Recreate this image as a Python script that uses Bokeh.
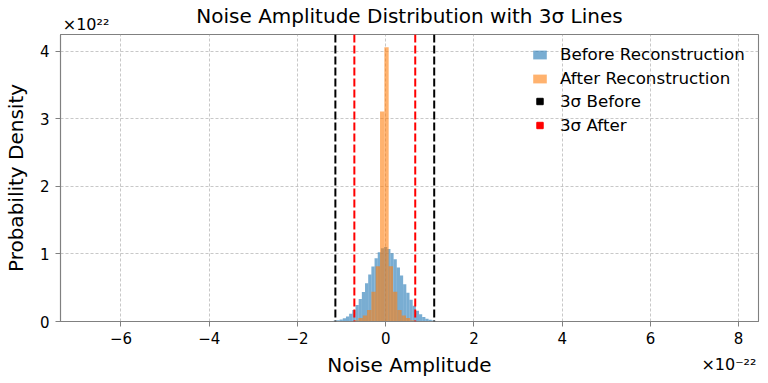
import numpy as np
from bokeh.plotting import figure
from bokeh.models import (Range1d, FixedTicker, Span, Legend, LegendItem, LinearAxis,
                          ColumnDataSource)
from bokeh.embed import file_html
from bokeh.resources import INLINE

# ---------------- data (x in units of 1e-22, density in units of 1e22) -------------
before_bin_start = -1.332
before_bin_width = 0.072
before_density = [0.003, 0.006, 0.010, 0.017, 0.029, 0.047, 0.075, 0.114, 0.170,
                  0.245, 0.335, 0.438, 0.565, 0.695, 0.815, 0.935, 1.025, 1.085,
                  1.105,
                  1.075, 1.010, 0.920, 0.800, 0.680, 0.550, 0.425, 0.322, 0.233,
                  0.160, 0.106, 0.068, 0.042, 0.025, 0.014, 0.008, 0.004, 0.002]

after_edges = [-0.716, -0.618, -0.520, -0.422, -0.324, -0.226, -0.128, -0.030,
               0.068, 0.166, 0.264, 0.362, 0.460, 0.558, 0.656]
after_density = [0.02, 0.05, 0.09, 0.17, 0.44, 0.82, 3.11, 4.06,
                 0.82, 0.44, 0.17, 0.09, 0.05, 0.02]

sigma3_before = [-1.14, 1.10]
sigma3_after = [-0.71, 0.67]

x_ticks = [-6, -4, -2, 0, 2, 4, 6, 8]
y_ticks = [0, 1, 2, 3, 4]
y_scale_text = "×10²²"
x_scale_text = "×10⁻²²"
title_text = "Noise Amplitude Distribution with 3σ Lines"

FONT = "DejaVu Sans"
BLUE = "#1f77b4"
ORANGE = "#ff7f0e"
GRAY = "#808080"

X0, X1 = -7.37, 8.45
Y0, Y1 = 0, 4.25

before_left = before_bin_start + before_bin_width * np.arange(len(before_density))
before_src = ColumnDataSource(dict(left=before_left,
                                   right=before_left + before_bin_width,
                                   top=before_density))
after_src = ColumnDataSource(dict(left=after_edges[:-1], right=after_edges[1:],
                                  top=after_density))

p = figure(width=768, height=383, output_backend="svg", toolbar_location=None,
           x_range=Range1d(X0, X1), y_range=Range1d(Y0, Y1),
           title_location=None,
           min_border_left=57, min_border_right=10, min_border_top=33,
           min_border_bottom=62)
p.background_fill_color = "white"
p.border_fill_color = "white"
p.outline_line_color = GRAY
p.outline_line_width = 1.1

r_before = p.quad(left="left", right="right", bottom=0, top="top", source=before_src,
                  fill_color=BLUE, fill_alpha=0.6, line_color=None)
r_after = p.quad(left="left", right="right", bottom=0, top="top", source=after_src,
                 fill_color=ORANGE, fill_alpha=0.6, line_color=None)

for v in sigma3_before:
    p.add_layout(Span(location=v, dimension="height", line_color="black",
                      line_dash="8 3", line_width=2))
for v in sigma3_after:
    p.add_layout(Span(location=v, dimension="height", line_color="red",
                      line_dash="8 3", line_width=2))

r_b_mark = p.scatter(x=[np.nan], y=[np.nan], marker="square", color="black", size=7)
r_a_mark = p.scatter(x=[np.nan], y=[np.nan], marker="square", color="red", size=7)


def style_axis(ax, tick_out=5, line=GRAY, label_size="15px"):
    ax.axis_line_color = line
    ax.axis_line_width = 1.1
    ax.major_tick_line_color = line
    ax.major_tick_out = tick_out
    ax.major_tick_in = 0
    ax.minor_tick_line_color = None
    ax.major_label_text_font = FONT
    ax.major_label_text_font_size = label_size
    ax.major_label_text_color = "black"
    ax.axis_label_text_font = FONT
    ax.axis_label_text_font_size = "20px"
    ax.axis_label_text_font_style = "normal"
    ax.axis_label_text_color = "black"


xa, ya = p.xaxis[0], p.yaxis[0]
style_axis(xa)
style_axis(ya)
xa.ticker = FixedTicker(ticks=x_ticks)
ya.ticker = FixedTicker(ticks=y_ticks)
xa.major_label_overrides = {t: str(t).replace("-", "−") for t in x_ticks}
ya.axis_label = "Probability Density"
xa.major_label_standoff = 5
ya.major_label_standoff = 6
ya.axis_label_standoff = 9

# second bottom axis: carries the x-offset text (as its only tick label) and
# the x-axis title on the same line
xb = LinearAxis(ticker=FixedTicker(ticks=[7.78]),
                major_label_overrides={7.78: x_scale_text},
                axis_label="Noise Amplitude")
style_axis(xb, tick_out=0, line=None, label_size="16px")
xb.major_label_standoff = 8
xb.axis_label_standoff = -24
p.add_layout(xb, "below")

# top axis: carries the y-offset text and the chart title on the same line
xt = LinearAxis(ticker=FixedTicker(ticks=[-6.79]),
                major_label_overrides={-6.79: y_scale_text},
                axis_label=title_text)
style_axis(xt, tick_out=0, line=None, label_size="16px")
xt.major_label_standoff = 1
xt.axis_label_standoff = -16
p.add_layout(xt, "above")

p.xgrid.ticker = FixedTicker(ticks=x_ticks)
p.ygrid.ticker = FixedTicker(ticks=y_ticks)
for g in (p.xgrid[0], p.ygrid[0]):
    g.grid_line_color = "#b0b0b0"
    g.grid_line_dash = "3 2"
    g.grid_line_width = 0.7

# legends
def make_legend(items, loc, gh):
    lg = Legend(items=items, location=loc, label_text_font=FONT,
                label_text_font_size="16.7px", label_text_color="black",
                glyph_width=17, glyph_height=gh,
                label_standoff=12, label_height=20, spacing=4, padding=5,
                border_line_alpha=0, background_fill_alpha=0, margin=0)
    p.add_layout(lg, "center")

make_legend([LegendItem(label="Before Reconstruction", renderers=[r_before]),
             LegendItem(label="After Reconstruction", renderers=[r_after])],
            (466, 228), 11)
make_legend([LegendItem(label="3σ Before", renderers=[r_b_mark]),
             LegendItem(label="3σ After", renderers=[r_a_mark])],
            (466, 181), 16)

open("out.html", "w").write(file_html(p, INLINE))
